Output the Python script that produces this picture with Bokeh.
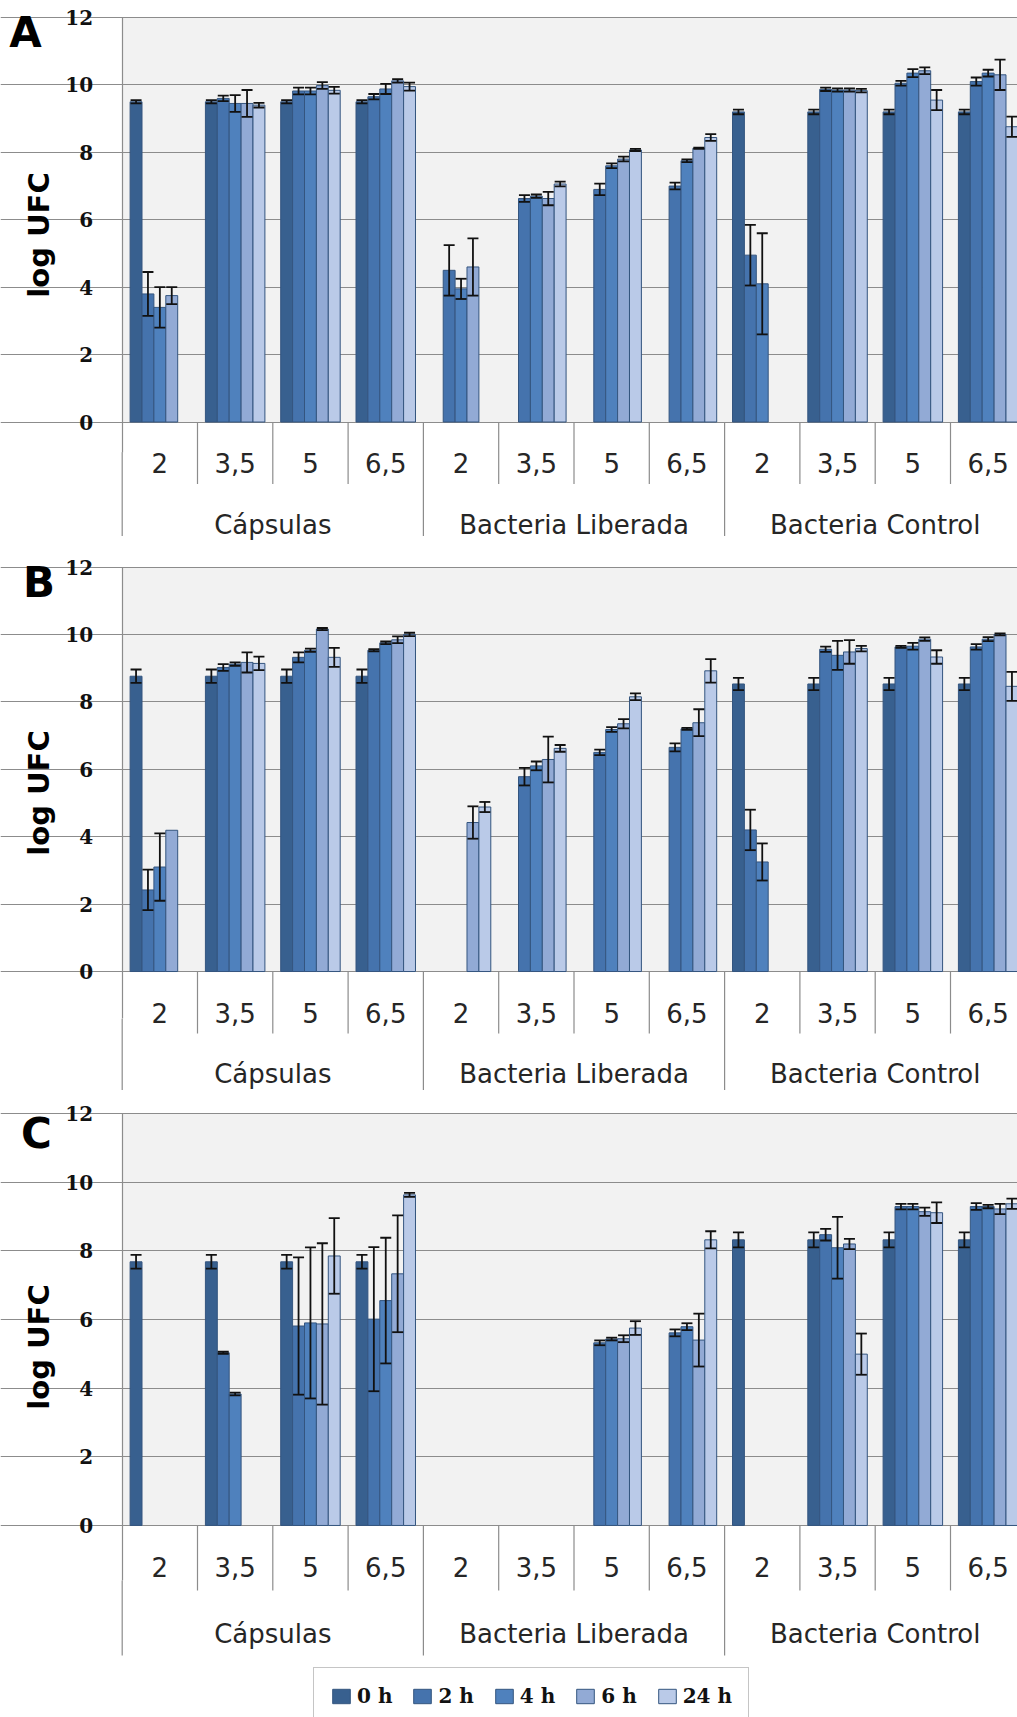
from bokeh.plotting import figure
from bokeh.models import ColumnDataSource, Range1d, FixedTicker, Whisker, TeeHead, Label
from bokeh.layouts import column
from bokeh.embed import file_html
from bokeh.resources import INLINE
from bokeh.core.properties import value

# ---------------- data ----------------
groups = ["Cápsulas", "Bacteria Liberada", "Bacteria Control"]
ph_labels = ["2", "3,5", "5", "6,5"]
times = ["0 h", "2 h", "4 h", "6 h", "24 h"]
panel_letters = ["A", "B", "C"]
y_ticks = [0, 2, 4, 6, 8, 10, 12]
N = None

# Panel A  (12 categories: Cápsulas 2..6,5 | Liberada 2..6,5 | Control 2..6,5)
a_0h = [9.5, 9.5, 9.5, 9.5, N, N, N, N, 9.2, 9.2, 9.2, 9.2]
a_2h = [3.8, 9.6, 9.82, 9.65, 4.5, 6.63, 6.9, 7.0, 4.95, 9.87, 10.05, 10.1]
a_4h = [3.4, 9.45, 9.82, 9.88, 3.95, 6.7, 7.6, 7.75, 4.1, 9.85, 10.35, 10.35]
a_6h = [3.75, 9.45, 9.98, 10.12, 4.6, 6.63, 7.8, 8.12, N, 9.85, 10.42, 10.3]
a_24h = [N, 9.4, 9.84, 9.95, N, 7.06, 8.07, 8.44, N, 9.83, 9.55, 8.76]
a_err_0h = [0.05, 0.05, 0.05, 0.05, N, N, N, N, 0.07, 0.07, 0.07, 0.07]
a_err_2h = [0.65, 0.08, 0.1, 0.08, 0.75, 0.1, 0.17, 0.1, 0.9, 0.05, 0.07, 0.12]
a_err_4h = [0.6, 0.25, 0.1, 0.15, 0.3, 0.05, 0.07, 0.04, 1.5, 0.05, 0.12, 0.1]
a_err_6h = [0.25, 0.4, 0.1, 0.05, 0.85, 0.2, 0.07, 0.02, N, 0.05, 0.1, 0.45]
a_err_24h = [N, 0.07, 0.1, 0.12, N, 0.07, 0.03, 0.1, N, 0.05, 0.3, 0.3]

# Panel B
b_0h = [8.76, 8.76, 8.76, 8.76, N, N, N, N, 8.53, 8.53, 8.53, 8.53]
b_2h = [2.42, 9.02, 9.32, 9.53, N, 5.78, 6.5, 6.65, 4.2, 9.56, 9.63, 9.63]
b_4h = [3.1, 9.12, 9.53, 9.75, N, 6.1, 7.18, 7.2, 3.25, 9.38, 9.65, 9.86]
b_6h = [4.19, 9.17, 10.16, 9.84, 4.42, 6.29, 7.35, 7.38, N, 9.48, 9.86, 10.0]
b_24h = [N, 9.14, 9.32, 10.0, 4.88, 6.62, 8.15, 8.92, N, 9.58, 9.33, 8.46]
b_err_0h = [0.2, 0.2, 0.2, 0.2, N, N, N, N, 0.18, 0.18, 0.18, 0.18]
b_err_2h = [0.6, 0.1, 0.15, 0.03, N, 0.26, 0.08, 0.12, 0.6, 0.08, 0.03, 0.08]
b_err_4h = [1.0, 0.05, 0.05, 0.04, N, 0.13, 0.07, 0.03, 0.55, 0.43, 0.1, 0.06]
b_err_6h = [N, 0.3, 0.03, 0.1, 0.48, 0.68, 0.14, 0.4, N, 0.35, 0.05, 0.03]
b_err_24h = [N, 0.2, 0.28, 0.05, 0.15, 0.1, 0.1, 0.35, N, 0.08, 0.2, 0.43]

# Panel C
c_0h = [7.68, 7.68, 7.68, 7.68, N, N, N, N, 8.32, 8.32, 8.32, 8.32]
c_2h = [N, 5.03, 5.81, 6.01, N, N, 5.32, 5.61, N, 8.47, 9.29, 9.29]
c_4h = [N, 3.83, 5.9, 6.55, N, N, 5.43, 5.79, N, 8.09, 9.29, 9.29]
c_6h = [N, N, 5.87, 7.33, N, N, 5.44, 5.4, N, 8.2, 9.14, 9.22]
c_24h = [N, N, 7.85, 9.63, N, N, 5.75, 8.32, N, 4.99, 9.11, 9.37]
c_err_0h = [0.2, 0.2, 0.2, 0.2, N, N, N, N, 0.22, 0.22, 0.22, 0.22]
c_err_2h = [N, 0.03, 2.0, 2.1, N, N, 0.07, 0.1, N, 0.17, 0.08, 0.1]
c_err_4h = [N, 0.04, 2.2, 1.83, N, N, 0.04, 0.1, N, 0.9, 0.08, 0.05]
c_err_6h = [N, N, 2.35, 1.7, N, N, 0.1, 0.77, N, 0.15, 0.12, 0.15]
c_err_24h = [N, N, 1.1, 0.06, N, N, 0.2, 0.25, N, 0.6, 0.3, 0.15]

panel_values = [
    [a_0h, a_2h, a_4h, a_6h, a_24h],
    [b_0h, b_2h, b_4h, b_6h, b_24h],
    [c_0h, c_2h, c_4h, c_6h, c_24h],
]
panel_errors = [
    [a_err_0h, a_err_2h, a_err_4h, a_err_6h, a_err_24h],
    [b_err_0h, b_err_2h, b_err_4h, b_err_6h, b_err_24h],
    [c_err_0h, c_err_2h, c_err_4h, c_err_6h, c_err_24h],
]

# ---------------- style / layout ----------------
colors = ["#38608F", "#4573AD", "#4F81BD", "#92AAD5", "#BACAE8"]
bar_line = "#34557F"
grid_col = "#8C8C8C"
plot_bg = "#F2F2F2"
W = 1017
AXIS_X = 121.7      # px of the value axis from the left edge
CAT_W = 75.3        # px per category
BAR_W = 0.158

geoms = [
    dict(h=550, y12=17.0, ppu=33.71, tick_lab=40.5, tick_div=62, grp_lab=103, grp_div=114,
         letter=(25, 32), title_mid=5.55),
    dict(h=540, y12=16.5, ppu=33.71, tick_lab=41, tick_div=62, grp_lab=102, grp_div=None,
         letter=(38.5, 32), title_mid=5.3),
    dict(h=627, y12=23.0, ppu=34.33, tick_lab=41.7, tick_div=65, grp_lab=109, grp_div=130,
         letter=(36, 43), title_mid=5.2),
]

cats = [(g, ph) for g in groups for ph in ph_labels]
ncat = len(cats)
nper = len(ph_labels)
ytop = y_ticks[-1]

figs = []
for k in range(3):
    g = geoms[k]
    ppu = g["ppu"]

    def ydat(py, g=g, ppu=ppu):
        return ytop - (py - g["y12"]) / ppu

    def xdat(px):
        return (px - AXIS_X) / CAT_W

    y_end = ydat(0)
    y_start = ydat(g["h"])
    x_start, x_end = xdat(0), xdat(W)

    p = figure(width=W, height=g["h"], x_range=Range1d(x_start, x_end), y_range=Range1d(y_start, y_end),
               output_backend="svg", toolbar_location=None, x_axis_type=None,
               min_border_left=0, min_border_right=0, min_border_top=0, min_border_bottom=0,
               background_fill_color="white", border_fill_color="white", outline_line_color=None)

    # grey plotting area (0..12)
    p.quad(left=0, right=ncat, bottom=0, top=ytop, fill_color=plot_bg, line_color=None, level="image")
    # hide gridlines left of the value axis
    p.quad(left=x_start, right=0, bottom=y_start, top=y_end, fill_color="white", line_color=None, level="underlay")

    grp_div_y = -(g["grp_div"] / ppu) if g["grp_div"] else y_start
    axis_lo = 2 * g["title_mid"] - ytop   # axis title is centred on the axis bounds

    # y axis, drawn at x = 0
    ax = p.yaxis[0]
    ax.fixed_location = 0
    ax.ticker = FixedTicker(ticks=y_ticks)
    ax.bounds = (axis_lo, ytop)
    ax.axis_line_color = grid_col
    ax.axis_line_width = 1.2
    ax.major_tick_line_color = grid_col
    ax.major_tick_out = 10
    ax.major_tick_in = 0
    ax.minor_tick_line_color = None
    ax.major_label_standoff = 19
    ax.major_label_text_font = "DejaVu Serif"
    ax.major_label_text_font_style = "bold"
    ax.major_label_text_font_size = "20px"
    ax.major_label_text_color = "#111111"
    ax.axis_label = "log UFC"
    ax.axis_label_text_font = "DejaVu Sans"
    ax.axis_label_text_font_style = "bold"
    ax.axis_label_text_font_size = "29px"
    ax.axis_label_text_color = "#000000"
    ax.axis_label_standoff = 7

    p.ygrid.ticker = FixedTicker(ticks=y_ticks)
    p.ygrid.grid_line_color = grid_col
    p.ygrid.grid_line_width = 1.2

    # bars and error bars
    for s in range(len(times)):
        vals = panel_values[k][s]
        errs = panel_errors[k][s]
        off = (s - (len(times) - 1) / 2) * BAR_W
        xs = [i + 0.5 + off for i in range(ncat) if vals[i] is not None]
        tops = [vals[i] for i in range(ncat) if vals[i] is not None]
        src = ColumnDataSource(dict(x=xs, top=tops))
        kw = dict(legend_label=times[s]) if k == 2 else {}
        p.vbar(x="x", top="top", bottom=0, width=BAR_W, source=src,
               fill_color=colors[s], line_color=bar_line, line_width=1, **kw)
        ex = [i + 0.5 + off for i in range(ncat) if vals[i] is not None and errs[i]]
        eu = [vals[i] + errs[i] for i in range(ncat) if vals[i] is not None and errs[i]]
        el = [vals[i] - errs[i] for i in range(ncat) if vals[i] is not None and errs[i]]
        esrc = ColumnDataSource(dict(x=ex, upper=eu, lower=el))
        w = Whisker(source=esrc, base="x", upper="upper", lower="lower", dimension="height",
                    line_color="#111111", line_width=1.8, level="annotation",
                    upper_head=TeeHead(size=11, line_color="#111111", line_width=1.8),
                    lower_head=TeeHead(size=11, line_color="#111111", line_width=1.8))
        p.add_layout(w)

    # category axis (drawn below zero)
    tick_x = [i for i in range(1, ncat) if i % nper != 0]
    p.segment(x0=tick_x, y0=[0] * len(tick_x), x1=tick_x, y1=[-g["tick_div"] / ppu] * len(tick_x),
              line_color=grid_col, line_width=1.2)
    grp_x = [i for i in range(0, ncat + 1, nper)]
    grp_y0 = [axis_lo if i == 0 else 0 for i in grp_x]
    p.segment(x0=grp_x, y0=grp_y0, x1=grp_x, y1=[grp_div_y] * len(grp_x),
              line_color=grid_col, line_width=1.2)

    lab_src = ColumnDataSource(dict(x=[i + 0.5 for i in range(ncat)],
                                    y=[-g["tick_lab"] / ppu] * ncat,
                                    t=[c[1] for c in cats]))
    p.text(x="x", y="y", text="t", source=lab_src, text_font=value("DejaVu Sans"),
           text_font_size="26px", text_align="center", text_baseline="middle", text_color="#262626")
    grp_src = ColumnDataSource(dict(x=[gi * nper + nper / 2 for gi in range(len(groups))],
                                    y=[-g["grp_lab"] / ppu] * len(groups),
                                    t=groups))
    p.text(x="x", y="y", text="t", source=grp_src, text_font=value("DejaVu Sans"),
           text_font_size="26px", text_align="center", text_baseline="middle", text_color="#262626")

    # panel letter
    lx, ly = g["letter"]
    p.add_layout(Label(x=xdat(lx), y=ydat(ly), text=panel_letters[k],
                       text_font="DejaVu Sans", text_font_style="bold", text_font_size="42px",
                       text_align="center", text_baseline="middle", text_color="#000000"))

    if k == 2:
        lg = p.legend[0]
        lg.orientation = "horizontal"
        lg.location = (313, -8)
        lg.padding = 16
        lg.spacing = 19
        lg.glyph_width = 22
        lg.glyph_height = 18
        lg.label_standoff = 5
        lg.label_text_font = "DejaVu Serif"
        lg.label_text_font_style = "bold"
        lg.label_text_font_size = "20px"
        lg.label_text_color = "#111111"
        lg.border_line_color = grid_col
        lg.border_line_width = 1.2
        lg.background_fill_color = "white"
        lg.background_fill_alpha = 1.0
        lg.margin = 0

    figs.append(p)

layout = column(*figs, spacing=0)
open("out.html", "w").write(file_html(layout, INLINE))
